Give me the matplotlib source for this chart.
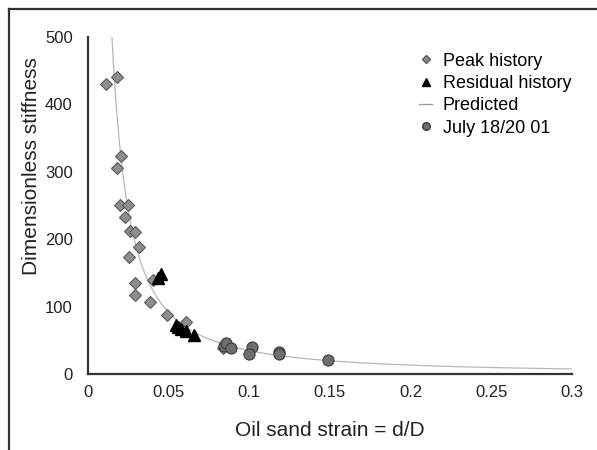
import matplotlib.pyplot as plt
import matplotlib.lines as mlines
import numpy as np

plt.rcParams['font.family'] = ['Liberation Sans', 'DejaVu Sans']

# peak history (strain, stiffness)
peak_strain = [0.011, 0.0182, 0.0203, 0.0182, 0.0197, 0.025, 0.0228, 0.0259,
               0.0292, 0.0317, 0.0255, 0.0292, 0.0292, 0.0385, 0.040, 0.0489,
               0.0606, 0.0834]
peak_stiff = [430, 441, 324, 306, 251, 251, 233, 212,
              210, 188, 173, 135, 117, 106, 140, 87,
              77, 38]

# residual history
resid_strain = [0.0435, 0.0455, 0.0544, 0.0560, 0.0575, 0.0606, 0.0658]
resid_stiff = [143, 148, 73, 70, 66, 63, 58]

# July 18/20 01 readings
july_strain = [0.0845, 0.0855, 0.0886, 0.1015, 0.0995, 0.1186, 0.1186, 0.1487]
july_stiff = [41, 46, 38, 40, 30, 33, 29, 21]

# predicted power law: stiffness = coef * strain ** expo
pred_coef = 1.366
pred_expo = -1.403
pred_start = 0.0149
pred_end = 0.3

fig = plt.figure(figsize=(5.97, 4.5), dpi=100)
ax = fig.add_axes([0.1474, 0.169, 0.8106, 0.749])

xs = np.linspace(pred_start, pred_end, 400)
ax.plot(xs, pred_coef * xs ** pred_expo, color='#b8b8b8', lw=0.9, zorder=1)

ax.plot(peak_strain, peak_stiff, ls='none', marker='D', ms=6.2,
        mfc='#8e8e8e', mec='#5a5a5a', mew=0.8, zorder=2)
ax.plot(resid_strain, resid_stiff, ls='none', marker='^', ms=8.5,
        mfc='black', mec='black', zorder=3)
ax.plot(july_strain, july_stiff, ls='none', marker='o', ms=8,
        mfc='#6e6e6e', mec='#3c3c3c', mew=0.8, zorder=4)

ax.set_xlim(0, 0.3)
ax.set_ylim(0, 500)
ax.set_xticks([0, 0.05, 0.1, 0.15, 0.2, 0.25, 0.3])
ax.set_xticklabels(['0', '0.05', '0.1', '0.15', '0.2', '0.25', '0.3'])
ax.set_yticks([0, 100, 200, 300, 400, 500])
ax.tick_params(length=0, labelsize=12, colors='#222222', pad=8)
ax.tick_params(axis='y', pad=11)
for side in ['top', 'right']:
    ax.spines[side].set_visible(False)
for side in ['left', 'bottom']:
    ax.spines[side].set_linewidth(1.6)
    ax.spines[side].set_color('#333333')

ax.set_xlabel('Oil sand strain = d/D', fontsize=15, color='#222222')
ax.set_ylabel('Dimensionless stiffness', fontsize=15, color='#222222')
ax.xaxis.set_label_coords(0.5, -0.14)
ax.yaxis.set_label_coords(-0.097, 0.617)

handles = [
    mlines.Line2D([], [], ls='none', marker='D', ms=4, mfc='#8e8e8e', mec='#5a5a5a'),
    mlines.Line2D([], [], ls='none', marker='^', ms=5.5, mfc='black', mec='black'),
    mlines.Line2D([], [], color='#999999', lw=0.9),
    mlines.Line2D([], [], ls='none', marker='o', ms=5.5, mfc='#6e6e6e', mec='#3c3c3c'),
]
labels = ['Peak history', 'Residual history', 'Predicted', 'July 18/20 01']
ax.legend(handles, labels, loc='upper left', bbox_to_anchor=(0.67, 0.975),
          frameon=False, fontsize=13, handlelength=0.7, handletextpad=0.6,
          labelspacing=0.3, borderaxespad=0)

# outer frame lines along top and left edge
fig.add_artist(mlines.Line2D([9 / 597, 1], [1 - 9 / 450, 1 - 9 / 450],
                             transform=fig.transFigure, color='#333333', lw=1.6))
fig.add_artist(mlines.Line2D([9 / 597, 9 / 597], [0, 1 - 9 / 450],
                             transform=fig.transFigure, color='#333333', lw=1.6))

fig.savefig('out.png', dpi=100)
